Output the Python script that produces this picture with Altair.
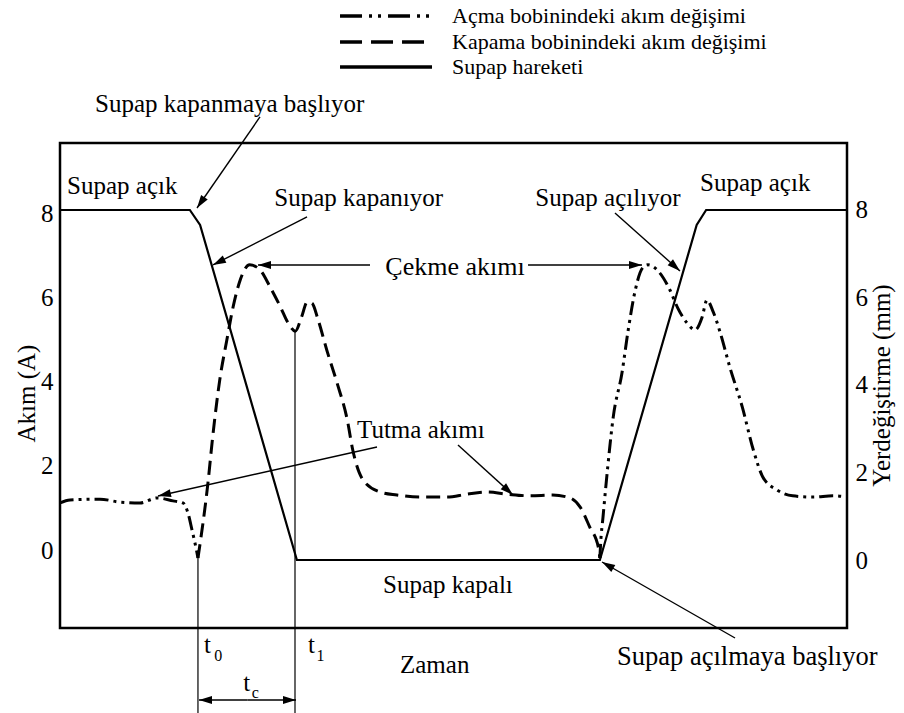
import math
import altair as alt
import pandas as pd

FONT = "Liberation Serif, Times New Roman, serif"
FS = 25

# plot area and scale domains
W, H = 787, 485
T_DOMAIN = [0, 100]          # time, arbitrary units
I_DOMAIN = [-1.857, 9.69]    # coil current (A)
S_DOMAIN = [-1.554, 9.531]   # valve lift (mm)

# valve lift (mm)
lift_t = [0, 16.5, 17.8, 30.1, 68.6, 80.9, 82.1, 100]
lift_mm = [8, 8, 7.66, 0, 0, 7.66, 8, 8]

# opening coil current before the valve starts closing (holding current)
open1_t = [0, 1.27, 5.08, 7.62, 10.17, 12.33, 14.36, 15.63, 16.26, 16.77, 17.41, 17.53]
open1_a = [1.12, 1.19, 1.21, 1.14, 1.12, 1.24, 1.17, 1.12, 0.88, 0.48, -0.07, -0.19]

# opening coil current when the valve opens (pull-in, then holding)
open2_t = [68.6, 68.7, 69.0, 69.6, 70.3, 71.4, 72.2, 73.1, 74.0, 74.7, 76.2, 77.5,
           78.5, 79.7, 80.7, 81.6, 82.2, 83.0, 83.9, 85.1, 86.7, 88.1, 89.3, 91.1,
           93.1, 95.7, 98.2, 100]
open2_a = [-0.19, 0.17, 0.79, 1.98, 3.17, 4.21, 5.24, 6.19, 6.71, 6.79, 6.60, 6.19,
           5.76, 5.40, 5.24, 5.55, 5.95, 5.67, 5.17, 4.36, 3.40, 2.38, 1.74, 1.43,
           1.29, 1.26, 1.29, 1.26]

# closing coil current
close_t = [17.53, 18.8, 19.4, 20.3, 21.2, 22.0, 22.9, 24.1, 25.4, 26.7, 28.0, 29.0,
           29.9, 30.7, 31.4, 32.0, 32.8, 33.9, 35.2, 36.5, 37.2, 38.5, 40.7, 42.8,
           45.7, 49.2, 51.7, 54.3, 56.8, 59.7, 62.6, 64.8, 66.1, 67.3, 68.4, 68.6]
close_a = [-0.19, 1.60, 2.69, 4.05, 5.0, 5.79, 6.43, 6.79, 6.67, 6.26, 5.79, 5.40,
           5.21, 5.55, 5.90, 5.88, 5.48, 4.76, 3.98, 3.10, 2.38, 1.67, 1.38, 1.31,
           1.26, 1.26, 1.33, 1.38, 1.33, 1.29, 1.31, 1.24, 1.02, 0.55, 0.07, -0.19]

tick_values = [0, 2, 4, 6, 8]

# switching instants
t_start_close = 17.53
t_end_close = 29.86

DASHED = [14, 7]
DASHDOT = [14, 5, 3, 5, 3, 5]
HEAD = "M0,0L-2,-0.62L-2,0.62Z"

xs = alt.Scale(domain=T_DOMAIN, nice=False, zero=False)
ys = alt.Scale(domain=I_DOMAIN, nice=False, zero=False)
ss = alt.Scale(domain=S_DOMAIN, nice=False, zero=False)


def X(field="t"):
    return alt.X(f"{field}:Q", scale=xs, axis=None)


def Y(field="a", axis=None):
    return alt.Y(f"{field}:Q", scale=ys, axis=axis)


def heading(t0, a0, t1, a1):
    dx = (t1 - t0) * W / (T_DOMAIN[1] - T_DOMAIN[0])
    dy = -(a1 - a0) * H / (I_DOMAIN[1] - I_DOMAIN[0])
    return math.degrees(math.atan2(dy, dx)) % 360


current_axis = alt.Axis(
    orient="left", values=tick_values, title="Akım (A)", domain=False, ticks=False,
    grid=False, labelFont=FONT, labelFontSize=FS, labelColor="black", labelPadding=7,
    titleFont=FONT, titleFontSize=FS, titleFontWeight="normal", titleColor="black",
    titleAngle=270, titleX=-34, titleY=250, titleAlign="center", titleBaseline="middle",
)
lift_axis = alt.Axis(
    orient="right", values=tick_values, title="Yerdeğiştirme (mm)", domain=False,
    ticks=False, grid=False, labelFont=FONT, labelFontSize=FS, labelColor="black",
    labelPadding=8, titleFont=FONT, titleFontSize=FS, titleFontWeight="normal",
    titleColor="black", titleAngle=270, titleX=34, titleY=242, titleAlign="center",
    titleBaseline="middle",
)

close_df = pd.DataFrame({"t": close_t, "a": close_a})
open_df = pd.concat([
    pd.DataFrame({"t": open1_t, "a": open1_a, "seg": "hold"}),
    pd.DataFrame({"t": open2_t, "a": open2_a, "seg": "pull"}),
])
lift_df = pd.DataFrame({"t": lift_t, "s": lift_mm})

close_line = alt.Chart(close_df).mark_line(
    color="black", strokeWidth=3, strokeDash=DASHED, interpolate="monotone"
).encode(x=X(), y=Y(axis=current_axis))

open_line = alt.Chart(open_df).mark_line(
    color="black", strokeWidth=3, strokeDash=DASHDOT, interpolate="monotone"
).encode(x=X(), y=Y(), detail="seg:N")

lift_line = alt.Chart(lift_df).mark_line(color="black", strokeWidth=2.2).encode(
    x=X(), y=alt.Y("s:Q", scale=ss, axis=lift_axis)
)

# t0 / t1 marker lines
bottom = -3.881
guide_df = pd.DataFrame({
    "t": [t_start_close, t_end_close],
    "a": [-0.19, 5.21],
    "a2": [bottom, bottom],
})
guides = alt.Chart(guide_df).mark_rule(color="black", strokeWidth=1.2).encode(
    x=X(), y=Y(), y2="a2:Q"
)

# annotation arrows: start -> tip
arrows = [
    (25.41, 10.31, 17.41, 8.143),   # kapanmaya başlıyor
    (31.39, 7.929, 19.44, 6.786),   # kapanıyor
    (39.39, 6.786, 25.16, 6.786),   # çekme (left)
    (59.47, 6.786, 73.95, 6.786),   # çekme (right)
    (70.52, 8.024, 78.78, 6.643),   # açılıyor
    (40.28, 2.452, 12.45, 1.286),   # tutma (left)
    (50.57, 2.50, 57.56, 1.31),     # tutma (right)
    (85.77, -2.095, 68.87, -0.286), # açılmaya başlıyor
    (23.8, -3.571, 17.66, -3.571),  # t_c (left half)
    (23.8, -3.571, 29.99, -3.571),  # t_c (right half)
]
shaft_df = pd.DataFrame(arrows, columns=["t", "a", "t2", "a2"])
head_df = pd.DataFrame({
    "t": [r[2] for r in arrows],
    "a": [r[3] for r in arrows],
    "ang": [heading(*r) for r in arrows],
})
shafts = alt.Chart(shaft_df).mark_rule(color="black", strokeWidth=1.4).encode(
    x=X(), y=Y(), x2="t2:Q", y2="a2:Q"
)
heads = alt.Chart(head_df).mark_point(
    shape=HEAD, filled=True, color="black", size=169, opacity=1, strokeWidth=0
).encode(x=X(), y=Y(), angle=alt.Angle("ang:Q", scale=None))


def labels(rows, align="left", size=FS):
    df = pd.DataFrame(rows, columns=["label", "t", "a"])
    return alt.Chart(df).mark_text(
        align=align, baseline="middle", font=FONT, fontSize=size, color="black"
    ).encode(x=X(), y=Y(), text="label:N")


left_text = labels([
    ("Supap kapanmaya başlıyor", 4.45, 10.62),
    ("Supap açık", 0.9, 8.66),
    ("Supap açılıyor", 60.4, 8.38),
    ("Supap açık", 81.32, 8.74),
    ("Tutma akımı", 37.74, 2.857),
    ("Supap kapalı", 41.04, -0.833),
    ("Zaman", 43.2, -2.74),
    ("t", 18.3, -2.262),
    ("t", 31.5, -2.262),
    ("t", 23.3, -3.167),
])
big_text = labels([("Supap açılmaya başlıyor", 70.78, -2.548)], size=26.5)
right_text = labels([("Supap kapanıyor", 48.67, 8.38)], align="right")
center_text = labels([("Çekme akımı", 50.19, 6.74)], align="center", size=26)
sub_text = labels([
    ("0", 19.6, -2.52),
    ("1", 32.6, -2.52),
    ("c", 24.35, -3.40),
], size=16)

# legend
leg_rows = [
    ("Açma bobinindeki akım değişimi", 12.714, [22, 7, 3, 6, 3, 7]),
    ("Kapama bobinindeki akım değişimi", 12.095, [22, 9]),
    ("Supap hareketi", 11.50, None),
]
legend_layers = []
for name, a, dash in leg_rows:
    kw = {"strokeDash": dash} if dash else {}
    legend_layers.append(
        alt.Chart(pd.DataFrame({"t": [35.58], "t2": [47.27], "a": [a]}))
        .mark_rule(color="black", strokeWidth=3.5, **kw)
        .encode(x=X(), x2="t2:Q", y=Y())
    )
legend_text = labels([(name, 49.81, a) for name, a, _ in leg_rows], size=22)

chart = (
    alt.layer(
        close_line, lift_line, open_line, guides, shafts, heads,
        left_text, big_text, right_text, center_text, sub_text, legend_text,
        *legend_layers,
    )
    .resolve_scale(y="independent")
    .properties(
        width=W, height=H, autosize="none",
        padding={"left": 60, "top": 143, "right": 57, "bottom": 85},
        background="white",
    )
    .configure_view(stroke="black", strokeWidth=2.5)
)

chart.save("out.html", embed_options={"renderer": "svg", "actions": False})
